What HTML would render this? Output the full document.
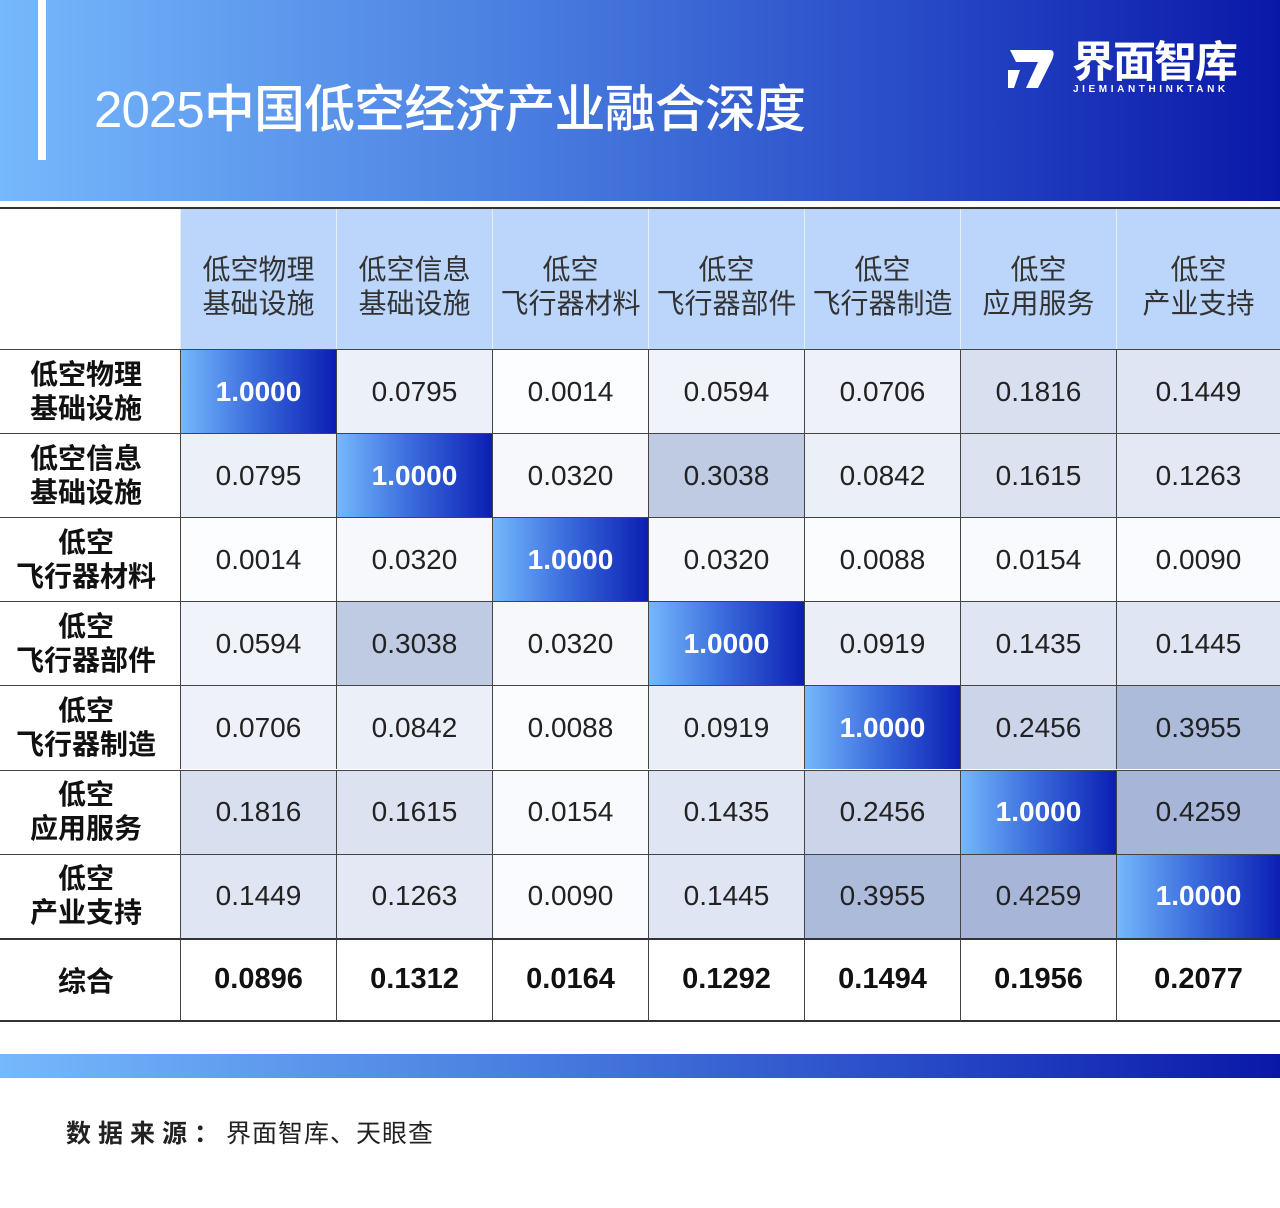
<!DOCTYPE html>
<html><head><meta charset="utf-8">
<style>
body{margin:0;width:1280px;height:1208px;background:#fff;position:relative;overflow:hidden;font-family:"Liberation Sans","Noto Sans CJK SC",sans-serif;}
.abs{position:absolute;}
#header{left:0;top:0;width:1280px;height:201px;background:linear-gradient(90deg,#76b8fc 0%,#4a7fe0 40%,#2444c4 75%,#0a18a8 100%);}
.cell{position:absolute;display:flex;align-items:center;justify-content:center;box-sizing:border-box;text-align:center;}
</style></head><body>
<div id="header" class="abs"></div>
<div class="abs" style="left:38px;top:0;width:8px;height:160px;background:#fff"></div>
<div class="abs" style="left:94px;top:80px;font-size:51px;color:#fff;font-weight:500;letter-spacing:-0.9px;line-height:60px">2025中国低空经济产业融合深度</div>
<div class="abs" style="left:1006px;top:40px;width:250px;height:60px">
  <svg width="50" height="50" viewBox="0 0 50 50" style="position:absolute;left:0;top:4px"><path d="M4 6 H44 Q50 6 46 16 L32 44 H20 L32 18 H10 Z" fill="#fff"/><path d="M2 26 H14 L8 44 H2 Z" fill="#fff"/></svg>
  <div class="abs" style="left:66px;top:-2px;font-size:43px;color:#fff;font-weight:bold;line-height:50px;letter-spacing:-2px">界面智库</div>
  <div class="abs" style="left:67px;top:44px;font-size:10px;color:#fff;font-weight:bold;letter-spacing:3.6px">JIEMIANTHINKTANK</div>
</div>
<div class="abs" style="left:0;top:207px;width:1280px;height:2px;background:#333"></div>
<div id="tbl" class="abs" style="left:0;top:0;width:1280px;height:1208px"></div>
<div class="abs" style="left:0;top:1054px;width:1280px;height:24px;background:linear-gradient(90deg,#76b8fc 0%,#4a7fe0 40%,#2444c4 75%,#0a18a8 100%)"></div>
<div class="abs" style="left:66px;top:1114px;font-size:25px;color:#222;letter-spacing:1px"><b style="letter-spacing:7px">数据来源：</b>界面智库、天眼查</div>
<script>
const colLabels=["低空物理<br>基础设施","低空信息<br>基础设施","低空<br>飞行器材料","低空<br>飞行器部件","低空<br>飞行器制造","低空<br>应用服务","低空<br>产业支持"];
const rowLabels=["低空物理<br>基础设施","低空信息<br>基础设施","低空<br>飞行器材料","低空<br>飞行器部件","低空<br>飞行器制造","低空<br>应用服务","低空<br>产业支持"];
const matrix=[
[1,0.0795,0.0014,0.0594,0.0706,0.1816,0.1449],
[0.0795,1,0.0320,0.3038,0.0842,0.1615,0.1263],
[0.0014,0.0320,1,0.0320,0.0088,0.0154,0.0090],
[0.0594,0.3038,0.0320,1,0.0919,0.1435,0.1445],
[0.0706,0.0842,0.0088,0.0919,1,0.2456,0.3955],
[0.1816,0.1615,0.0154,0.1435,0.2456,1,0.4259],
[0.1449,0.1263,0.0090,0.1445,0.3955,0.4259,1]];
const summary=[0.0896,0.1312,0.0164,0.1292,0.1494,0.1956,0.2077];
const summaryLabel="综合";
const T=document.getElementById('tbl');
const colX=i=>180+i*156, colW=i=>i===6?164:156, rowY=j=>349+j*84.1, rowH=84.1;
function shade(v){const t=Math.min(v/0.43,1);const c=[[252,253,255],[166,181,216]];const m=k=>Math.round(c[0][k]+(c[1][k]-c[0][k])*t);return `rgb(${m(0)},${m(1)},${m(2)})`;}
function mk(x,y,w,h,html,st){const d=document.createElement('div');d.className='cell';d.style.cssText+=`left:${x}px;top:${y}px;width:${w}px;height:${h}px;`+st;d.innerHTML=html;T.appendChild(d);return d;}
colLabels.forEach((l,i)=>{const d=mk(colX(i),209,colW(i),140,l,'background:#bcd6fb;font-size:28px;color:#333;line-height:34px;padding-top:16px;border-left:1px solid #e8eef8;');

});
rowLabels.forEach((l,j)=>{const d=mk(0,rowY(j),180,rowH,l,'font-size:28px;font-weight:bold;color:#111;line-height:34px;padding-right:8px;border-top:1px solid #444;');


matrix[j].forEach((v,i)=>{const diag=v>=1;const c=mk(colX(i),rowY(j),colW(i),rowH,v.toFixed(4),(diag?'background:linear-gradient(90deg,#74b8fc,#3d6fde 45%,#0b1fb3);color:#fff;font-weight:bold;':'background:'+shade(v)+';color:#222;')+'font-size:28px;border-top:1px solid #444;border-left:1px solid #444;');

});});
const s=mk(0,rowY(7),180,rowH,summaryLabel,'font-size:28px;font-weight:bold;color:#111;padding-right:8px;border-top:2px solid #333;border-bottom:2px solid #333;');


summary.forEach((v,i)=>{const c=mk(colX(i),rowY(7),colW(i),rowH,v.toFixed(4),'font-size:29px;font-weight:bold;color:#111;border-top:2px solid #333;border-bottom:2px solid #333;border-left:1px solid #444;');

});
</script>
</body></html>
